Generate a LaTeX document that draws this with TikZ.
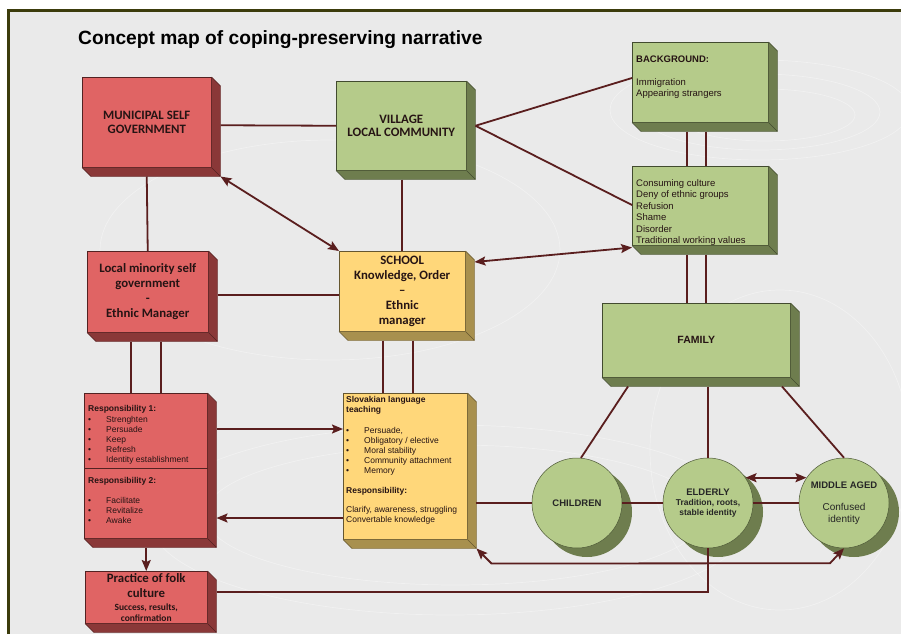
\documentclass[tikz,border=0pt]{standalone}
\usepackage{fontspec}
\setmainfont{Liberation Sans}
\newfontfamily\carl[Ligatures=TeX]{Carlito}
\usetikzlibrary{calc,arrows.meta}
\definecolor{redf}{HTML}{E06464}
\definecolor{reds}{HTML}{8A3838}
\definecolor{greenf}{HTML}{B5CB8A}
\definecolor{greens}{HTML}{6E7D4E}
\definecolor{yelf}{HTML}{FFD77A}
\definecolor{yels}{HTML}{A8904E}
\definecolor{conn}{HTML}{5A1E1E}
\definecolor{bgc}{HTML}{EAEAEA}
\definecolor{framec}{HTML}{3C3C0C}
\definecolor{txt}{HTML}{261414}
\newcommand\extr[2]{%
  \fill[#2] (#1.north east) -- ++(9,9) -- ($(#1.south east)+(9,9)$) -- ($(#1.south west)+(9,9)$) -- (#1.south west) -- (#1.south east) -- cycle;
  \draw[#2!60!black, line width=0.4] (#1.north east) -- ++(9,9) -- ($(#1.south east)+(9,9)$) -- ($(#1.south west)+(9,9)$) -- (#1.south west) (#1.south east) -- ++(9,9);
}
\newcommand\bul[1]{\makebox[18pt][l]{\textbullet}#1}
\tikzset{
  box/.style={draw=#1!60!black, line width=0.5, anchor=north west, inner sep=0, align=center, text=txt},
  bigtxt/.style={font=\carl\bfseries\fontsize{12.8}{15}\selectfont},
  captxt/.style={font=\carl\bfseries\fontsize{12.8}{13.5}\selectfont},
  smalltxt/.style={anchor=north west, inner sep=0, align=left, text=txt, font=\fontsize{8.5}{10}\selectfont},
  listtxt/.style={anchor=north west, inner sep=0, align=left, text=txt, font=\fontsize{9.5}{11.4}\selectfont},
  circ/.style={circle, draw=greens!70!black, fill=greenf, minimum size=90pt, inner sep=0, line width=0.5, align=center, text=black!85},
  con/.style={draw=conn, line width=1.8},
  arr/.style={con, -{Stealth[length=11pt,width=9pt,inset=2pt]}},
  darr/.style={con, {Stealth[length=11pt,width=9pt,inset=2pt]}-{Stealth[length=11pt,width=9pt,inset=2pt]}},
  swirl/.style={draw=white, line width=0.7, opacity=0.35}
}
\begin{document}
\begin{tikzpicture}[x=1pt,y=-1pt]
\useasboundingbox (0,0) rectangle (901,634);
\fill[white] (0,0) rectangle (901,634);
\fill[bgc] (8,11) rectangle (901,634);
% faint swirls
\draw[swirl] (760,110) ellipse (150 and 50);
\draw[swirl] (760,112) ellipse (120 and 38);
\draw[swirl] (765,115) ellipse (90 and 26);
\draw[swirl] (450,520) ellipse (300 and 95);
\draw[swirl] (455,515) ellipse (250 and 70);
\draw[swirl] (780,450) ellipse (130 and 160);
\draw[swirl] (330,250) ellipse (230 and 110);
\draw[framec, line width=3] (8,634) -- (8,11) -- (901,11);
% title
\node[anchor=base west, inner sep=0, font=\bfseries\fontsize{19.2}{21}\selectfont] (title) at (78,45) {Concept map of coping-preserving narrative};
% boxes
\node[box=reds, fill=redf, captxt, minimum width=129pt, minimum height=90pt] (mun) at (82,77) {MUNICIPAL SELF\\GOVERNMENT};
\extr{mun}{reds}
\node[box=greens, fill=greenf, captxt, minimum width=130pt, minimum height=89pt] (vil) at (336,81) {VILLAGE\\LOCAL COMMUNITY};
\extr{vil}{greens}
\node[box=greens, fill=greenf, minimum width=136pt, minimum height=80pt] (bg) at (632,42) {};
\extr{bg}{greens}
\node[box=greens, fill=greenf, minimum width=136pt, minimum height=79pt] (cons) at (632,166) {};
\extr{cons}{greens}
\node[box=reds, fill=redf, bigtxt, minimum width=121pt, minimum height=81pt] (loc) at (87,251) {Local minority self\\government\\-\\Ethnic Manager};
\extr{loc}{reds}
\node[box=yels, fill=yelf, bigtxt, minimum width=126pt, minimum height=80pt] (sch) at (339,251) {SCHOOL\\Knowledge, Order\\\textendash\\Ethnic\\manager};
\extr{sch}{yels}
\node[box=reds, fill=redf, minimum width=123pt, minimum height=145pt] (resp) at (84,393) {};
\extr{resp}{reds}
\draw[reds!60!black, line width=0.5] ($(resp.north west)+(0,75)$) -- ($(resp.north east)+(0,75)$);
\node[box=yels, fill=yelf, minimum width=124pt, minimum height=146pt] (slov) at (343,393) {};
\extr{slov}{yels}
\node[box=reds, fill=redf, minimum width=122pt, minimum height=52pt, font=\carl\bfseries\fontsize{12.8}{15}\selectfont] (prc) at (85,571) {Practice of folk\\culture\\[-2pt]\fontsize{9.5}{11}\selectfont Success, results,\\[-4pt]\fontsize{9.5}{11}\selectfont confirmation};
\extr{prc}{reds}
\node[box=greens, fill=greenf, minimum width=188pt, minimum height=74pt, font=\bfseries\fontsize{10.5}{12}\selectfont] (fam) at (602,303) {FAMILY};
\extr{fam}{greens}
% texts in boxes
\node[listtxt] (bgtxt) at (636,55.5) {\textbf{BACKGROUND:}\\[11.4pt]Immigration\\Appearing strangers};
\node[listtxt] (constxt) at (636,179.5) {Consuming culture\\Deny of ethnic groups\\Refusion\\Shame\\Disorder\\Traditional working values};
\node[smalltxt] (r1txt) at (88,405.5) {\textbf{Responsibility 1:}\\[1pt]\bul{Strenghten}\\\bul{Persuade}\\\bul{Keep}\\\bul{Refresh}\\\bul{Identity establishment}};
\node[smalltxt] (r2txt) at (88,477.5) {\textbf{Responsibility 2:}\\[10pt]\bul{Facilitate}\\\bul{Revitalize}\\\bul{Awake}};
\node[smalltxt] (slovtxt) at (346,396.5) {\textbf{Slovakian language}\\\textbf{teaching}\\[10.5pt]\bul{Persuade,}\\\bul{Obligatory / elective}\\\bul{Moral stability}\\\bul{Community attachment}\\\bul{Memory}\\[10.5pt]\textbf{Responsibility:}\\[9pt]Clarify, awareness, struggling\\Convertable knowledge};
% circles
\fill[greens] (587,512) circle (45);
\node[circ, font=\bfseries\fontsize{9.5}{11}\selectfont] (chi) at (577,503) {CHILDREN};
\fill[greens] (718,512) circle (45);
\node[circ, font=\bfseries\fontsize{8.5}{10.3}\selectfont] (eld) at (708,503) {{\fontsize{9.5}{10.3}\selectfont ELDERLY}\\Tradition, roots,\\stable identity};
\fill[greens] (854,512) circle (45);
\node[circ, font=\fontsize{10}{12}\selectfont] (mid) at (844,503) {{\bfseries\fontsize{9.5}{12}\selectfont MIDDLE AGED}\\[10pt]Confused\\identity};
% connectors
\draw[con] ($(mun.east)+(9,3)$) -- (vil.west);
\draw[con] ($(mun.south)+(0,9)$) -- (loc.north);
\draw[con] ($(vil.south)+(1,9)$) -- (sch.north);
\draw[darr] ($(mun.south east)+(9,9)$) -- (sch.north west);
\draw[con] ($(loc.east)+(9,3.5)$) -- ($(sch.west)+(0,4)$);
\coordinate (v1) at ($(vil.east)+(9,0)$);
\draw[con] (v1) -- ($(bg.north west)+(0,36)$);
\draw[con] (v1) -- ($(cons.north west)+(0,39)$);
\coordinate (b1) at ($(bg.south)+(-13,9)$);
\coordinate (b2) at ($(bg.south)+(6,9)$);
\draw[con] (b1) -- (b1 |- cons.north);
\draw[con] (b2) -- (b2 |- cons.north);
\coordinate (c1) at ($(cons.south)+(-13,9)$);
\coordinate (c2) at ($(cons.south)+(6,9)$);
\draw[con] (c1) -- (c1 |- fam.north);
\draw[con] (c2) -- (c2 |- fam.north);
\draw[darr] ($(sch.north east)+(9,11)$) -- ($(cons.south west)+(0,2)$);
\coordinate (l1) at ($(loc.south)+(-16.5,9)$);
\coordinate (l2) at ($(loc.south)+(13.5,9)$);
\draw[con] (l1) -- (l1 |- resp.north);
\draw[con] (l2) -- (l2 |- resp.north);
\coordinate (k1) at ($(sch.south)+(-19,9)$);
\coordinate (k2) at ($(sch.south)+(11,9)$);
\draw[con] (k1) -- (k1 |- slov.north);
\draw[con] (k2) -- (k2 |- slov.north);
\coordinate (r1) at ($(resp.north east)+(9,36)$);
\draw[arr] (r1) -- (r1 -| slov.west);
\coordinate (s1) at ($(slov.north west)+(0,125)$);
\draw[arr] (s1) -- (s1 -| r1);
\draw[arr] ($(resp.south)+(0.5,9)$) -- (prc.north);
\coordinate (f1) at ($(fam.south west)+(26,9)$);
\coordinate (f2) at ($(fam.south west)+(106,9)$);
\coordinate (f3) at ($(fam.south west)+(180,9)$);
\draw[con] (f1) -- (chi.85);
\draw[con] (f2) -- (eld.north);
\draw[con] (f3) -- (mid.north);
\draw[con] ($(slov.north east)+(8,110)$) -- (chi.west);
\draw[con] (chi.east) -- (eld.west);
\draw[con] (eld.east) -- (mid.west);
\draw[darr] (eld.34) -- (mid.146);
\coordinate (sb) at ($(slov.south east)+(9,9)$);
\draw[darr] (sb) -- ($(sb)+(15,15)$) -- ($(mid.south)+(-14,15)$) -- (mid.south);
\coordinate (p1) at ($(prc.east)+(9,-5)$);
\draw[con] (p1) -| (eld.south);
\end{tikzpicture}
\end{document}
